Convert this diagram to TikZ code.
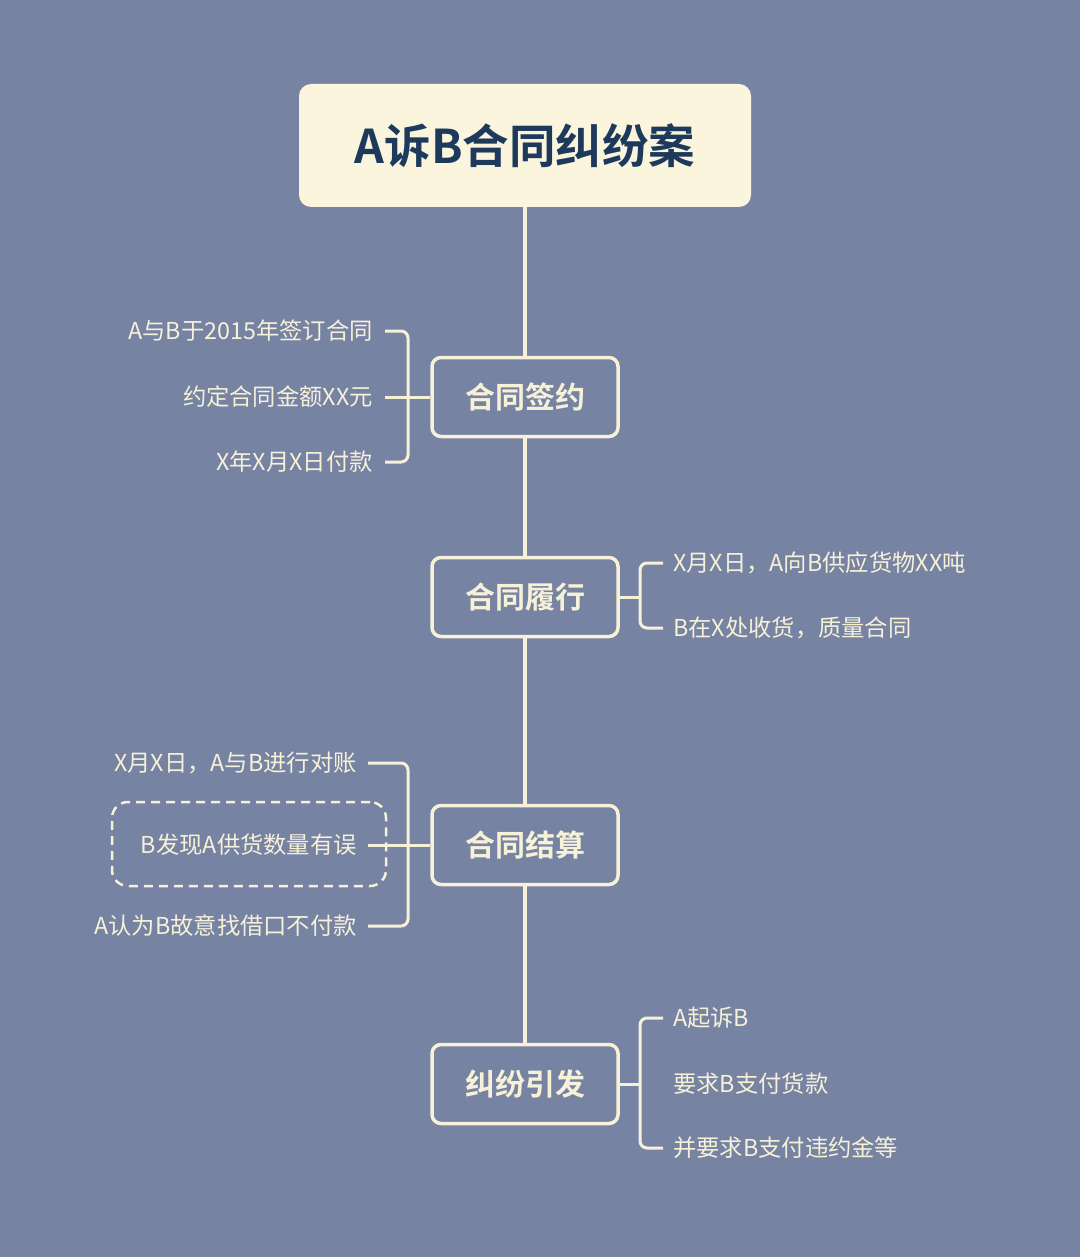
\documentclass[tikz,border=0pt]{standalone}
\usepackage{fontspec}
\setmainfont{Noto Sans CJK SC}
\newfontfamily\cjkb{Noto Sans CJK SC Bold}
\definecolor{bg}{HTML}{7783A3}
\definecolor{cream}{HTML}{F7F1D8}
\definecolor{titlefill}{HTML}{FAF5DC}
\definecolor{navy}{HTML}{1D3A5C}
\begin{document}
\begin{tikzpicture}[x=1pt,y=-1pt,
  stage/.style={draw=cream,line width=3.5pt,rounded corners=9pt,fill=bg,minimum width=186pt,minimum height=79pt,text=cream,font=\cjkb\fontsize{30}{34}\selectfont},
  lbl/.style={text=cream,font=\fontsize{23.3}{26}\selectfont,inner sep=0pt},
  br/.style={draw=cream,line width=3pt,rounded corners=7pt}]
\fill[bg] (0,0) rectangle (1080,1257);
\useasboundingbox (0,0) rectangle (1080,1257);
\node[fill=titlefill,rounded corners=12pt,minimum width=452pt,minimum height=123pt,text=navy,font=\cjkb\fontsize{46.5}{52}\selectfont] (t) at (525,145.5) {A诉B合同纠纷案};
\node[stage] (s1) at (525,397) {合同签约};
\node[stage] (s2) at (525,597) {合同履行};
\node[stage] (s3) at (525,845) {合同结算};
\node[stage] (s4) at (525,1084) {纠纷引发};
\draw[cream,line width=3.5pt] (t.south) -- (s1.north) (s1.south) -- (s2.north) (s2.south) -- (s3.north) (s3.south) -- (s4.north);
% group 1
\node[lbl,anchor=east] (a1) at (373,331) {A与B于2015年签订合同};
\node[lbl,anchor=east] (a2) at (373,397) {约定合同金额XX元};
\node[lbl,anchor=east] (a3) at (373,462) {X年X月X日付款};
\draw[br] (385,331) -- (408,331) -- (408,462) -- (385,462);
\draw[br] (385,397) -- (s1.west);
% group 2
\node[lbl,anchor=west] (b1) at (673,563) {X月X日，A向B供应货物XX吨};
\node[lbl,anchor=west] (b2) at (673,628) {B在X处收货，质量合同};
\draw[br] (663,563) -- (640,563) -- (640,628) -- (663,628);
\draw[br] (s2.east) -- (640,597);
% group 3
\node[draw=cream,dash pattern=on 9pt off 6pt,line width=2.5pt,rounded corners=16pt,minimum width=274pt,minimum height=84pt] (db) at (249,844) {};
\node[lbl,anchor=east] (c1) at (357,763) {X月X日，A与B进行对账};
\node[lbl,anchor=east] (c2) at (357,845) {B发现A供货数量有误};
\node[lbl,anchor=east] (c3) at (357,926) {A认为B故意找借口不付款};
\draw[br] (368,763) -- (408,763) -- (408,926) -- (368,926);
\draw[br] (368,845) -- (s3.west);
% group 4
\node[lbl,anchor=west] (d1) at (673,1018) {A起诉B};
\node[lbl,anchor=west] (d2) at (673,1084) {要求B支付货款};
\node[lbl,anchor=west] (d3) at (673,1148) {并要求B支付违约金等};
\draw[br] (663,1018) -- (640,1018) -- (640,1148) -- (663,1148);
\draw[br] (s4.east) -- (640,1084);
\end{tikzpicture}
\end{document}
